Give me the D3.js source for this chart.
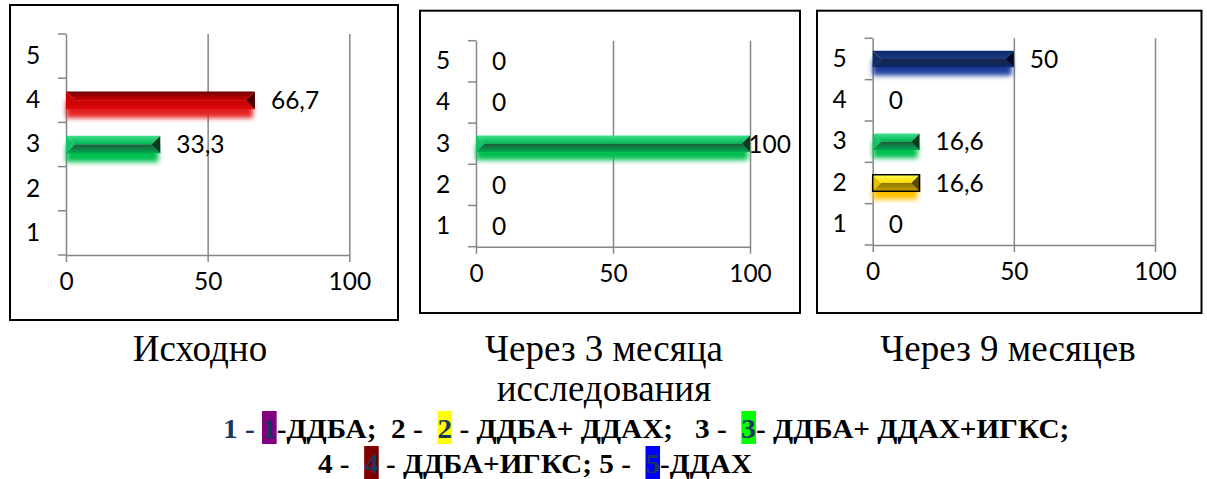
<!DOCTYPE html>
<html>
<head>
<meta charset="utf-8">
<script src="https://cdn.jsdelivr.net/npm/d3@7"></script>
<style>
  body { margin: 0; background: #fff; }
  svg { display: block; }
</style>
</head>
<body>
<svg id="chart" width="1207" height="479"></svg>
<script>
// ---- data ----
const categories = [1, 2, 3, 4, 5];
const xTickValues = [0, 50, 100];
const valuesInitial = [null, null, 33.3, 66.7, null];
const valuesMonth3 = [0, 0, 100, 0, 0];
const valuesMonth9 = [0, 16.6, 16.6, 0, 50];
const titleInitial = ["Исходно"];
const titleMonth3 = ["Через 3 месяца", "исследования"];
const titleMonth9 = ["Через 9 месяцев"];

// legend text runs: text, colour, optional highlight
const legendLine1 = [
  { t: "1 - ", c: "#17375e" },
  { t: "1", c: "#17375e", bg: "#800080" },
  { t: "-ДДБА;  2 -  ", c: "#000" },
  { t: "2", c: "#17375e", bg: "#ffff00" },
  { t: " - ДДБА+ ДДАХ;   3 -  ", c: "#000" },
  { t: "3", c: "#17375e", bg: "#00ff00" },
  { t: "- ДДБА+ ДДАХ+ИГКС;", c: "#000" }
];
const legendLine2 = [
  { t: "4 -  ", c: "#000" },
  { t: "4", c: "#17375e", bg: "#800000" },
  { t: " - ДДБА+ИГКС; 5 -  ", c: "#000" },
  { t: "5", c: "#17375e", bg: "#0000ff" },
  { t: "-ДДАХ", c: "#000" }
];

// ---- bar looks per category (bevelled bars with a soft glow below) ----
const barStyle = {
  1: { top: ["#b040b0", "#800080"], bottom: ["#500050", "#800080"], left: "#900090", right: "#300030", glow: "#9030a0" },
  2: { top: ["#ffff50", "#ffd800"], bottom: ["#8a7400", "#c8a000"], left: "#e6c000", right: "#5a4800", glow: "#ffc000", stroke: "#000" },
  3: { top: ["#40e08c", "#00b454"], bottom: ["#1c5c3a", "#00a850"], left: "#14c464", right: "#0a3c22", glow: "#00c050" },
  4: { top: ["#6a0000", "#d00000"], bottom: ["#c40000", "#dc0a0a"], left: "#d00000", right: "#480000", glow: "#e42424" },
  5: { top: ["#0a286c", "#1e3c80"], bottom: ["#1a2648", "#0a2868"], left: "#0e2c6c", right: "#000a20", glow: "#1c3c9c" }
};

const svg = d3.select("#chart");
const defs = svg.append("defs");

defs.append("filter").attr("id", "glow")
  .attr("x", "-10%").attr("y", "-60%").attr("width", "120%").attr("height", "220%")
  .append("feGaussianBlur").attr("stdDeviation", 2.6);

Object.entries(barStyle).forEach(([k, s]) => {
  ["top", "bottom"].forEach(part => {
    const lg = defs.append("linearGradient").attr("id", `g${k}${part}`)
      .attr("x1", 0).attr("y1", 0).attr("x2", 0).attr("y2", 1);
    lg.append("stop").attr("offset", "0%").attr("stop-color", s[part][0]);
    lg.append("stop").attr("offset", "100%").attr("stop-color", s[part][1]);
  });
});

const axisColor = "#868686";
const labelFont = "Lato, 'Open Sans', sans-serif";
const labelSize = "24.5px";

const panels = [
  { values: valuesInitial, title: titleInitial, frame: [10, 5, 398, 320], x0: 66, x1: 349.3, yTop: 34, yBot: 255, titleX: 200 },
  { values: valuesMonth3, title: titleMonth3, frame: [420, 10.7, 800, 313], x0: 476, x1: 750, yTop: 40.7, yBot: 246.7, titleX: 604 },
  { values: valuesMonth9, title: titleMonth9, frame: [817, 10.7, 1201.5, 313], x0: 872.7, x1: 1155, yTop: 38.3, yBot: 245, titleX: 1008 }
];

panels.forEach(p => {
  const g = svg.append("g");
  const [fx1, fy1, fx2, fy2] = p.frame;

  g.append("rect")
    .attr("x", fx1).attr("y", fy1)
    .attr("width", fx2 - fx1).attr("height", fy2 - fy1)
    .attr("fill", "#fff").attr("stroke", "#000").attr("stroke-width", 2);

  const x = d3.scaleLinear().domain([0, 100]).range([p.x0, p.x1]);
  const y = d3.scaleBand().domain(categories.slice().reverse()).range([p.yTop, p.yBot]);
  const plotH = p.yBot - p.yTop;

  // x axis with vertical gridlines
  const xAxis = g.append("g")
    .attr("transform", `translate(0,${p.yBot})`)
    .call(d3.axisBottom(x).tickValues(xTickValues).tickSize(7).tickSizeOuter(0).tickPadding(11));
  xAxis.select(".domain").attr("stroke", axisColor).attr("stroke-width", 1.5);
  xAxis.selectAll(".tick line").attr("y1", -plotH).attr("stroke", axisColor).attr("stroke-width", 1.5);
  xAxis.selectAll(".tick text")
    .attr("fill", "#000").style("font-family", labelFont).style("font-size", labelSize);

  // y axis: category labels centred in bands, tick marks on band edges
  const yAxis = g.append("g")
    .attr("transform", `translate(${p.x0},0)`)
    .call(d3.axisLeft(y).tickSize(0).tickPadding(27));
  yAxis.select(".domain").remove();
  yAxis.selectAll(".tick text")
    .attr("text-anchor", "middle").attr("x", -33)
    .attr("fill", "#000").style("font-family", labelFont).style("font-size", labelSize);

  const edges = categories.map(c => y(c)).concat([p.yBot]);
  g.append("g").selectAll("line").data(edges).join("line")
    .attr("x1", p.x0 - 8).attr("x2", p.x0)
    .attr("y1", d => d).attr("y2", d => d)
    .attr("stroke", axisColor).attr("stroke-width", 1.5);

  // bars
  const bw = y.bandwidth();
  const th = bw * 0.4;
  const bars = categories.map((c, i) => ({ c, v: p.values[i] }));

  bars.filter(d => d.v !== null && d.v > 0).forEach(d => {
    const s = barStyle[d.c];
    const xa = x(0), xb = x(d.v);
    const ya = y(d.c) + (bw - th) / 2, yb = ya + th;
    const mid = (ya + yb) / 2;
    const bev = Math.min(th / 2, (xb - xa) / 2);
    const bg = g.append("g");

    bg.append("rect")
      .attr("x", xa).attr("y", ya + th * 0.5)
      .attr("width", Math.max(0, xb - xa - 2)).attr("height", th)
      .attr("fill", s.glow).attr("filter", "url(#glow)");

    const poly = pts => pts.map(q => q.join(",")).join(" ");
    bg.append("polygon").attr("points", poly([[xa, ya], [xb, ya], [xb - bev, mid], [xa + bev, mid]]))
      .attr("fill", `url(#g${d.c}top)`);
    bg.append("polygon").attr("points", poly([[xa + bev, mid], [xb - bev, mid], [xb, yb], [xa, yb]]))
      .attr("fill", `url(#g${d.c}bottom)`);
    bg.append("polygon").attr("points", poly([[xa, ya], [xa + bev, mid], [xa, yb]]))
      .attr("fill", s.left);
    bg.append("polygon").attr("points", poly([[xb, ya], [xb - bev, mid], [xb, yb]]))
      .attr("fill", s.right);
    if (s.stroke) {
      bg.append("rect").attr("x", xa).attr("y", ya)
        .attr("width", xb - xa).attr("height", th)
        .attr("fill", "none").attr("stroke", s.stroke).attr("stroke-width", 1.5);
    }
  });

  // value labels
  g.append("g").selectAll("text")
    .data(bars.filter(d => d.v !== null))
    .join("text")
    .attr("x", d => x(d.v) + 16)
    .attr("y", d => y(d.c) + bw / 2)
    .attr("dy", "0.36em")
    .style("font-family", labelFont).style("font-size", labelSize)
    .attr("fill", "#000")
    .text(d => String(d.v).replace(".", ","))
    .each(function () {
      const w = this.getComputedTextLength();
      const cur = +this.getAttribute("x");
      if (cur + w > fx2 - 9) this.setAttribute("x", fx2 - 9 - w);
    });

  // panel caption
  const t = svg.append("text")
    .attr("text-anchor", "middle")
    .style("font-family", "'Liberation Serif', 'Times New Roman', serif")
    .style("font-size", "37px").attr("fill", "#000");
  p.title.forEach((line, i) => {
    t.append("tspan").attr("x", p.titleX).attr("y", 361 + i * 40).text(line);
  });
});

// legend lines with highlighted numbers
function legendLine(segs, startX, baseline, targetWidth) {
  const g = svg.append("g");
  const text = g.append("text")
    .attr("x", startX).attr("y", baseline)
    .style("white-space", "pre")
    .style("font-family", "'Liberation Serif', 'Times New Roman', serif")
    .style("font-weight", "bold").style("font-size", "28px");
  segs.forEach(s => text.append("tspan").attr("fill", s.c).text(s.t));
  const w = text.node().getComputedTextLength();
  const k = targetWidth / w;
  g.attr("transform", `translate(${startX},0) scale(${k},1) translate(${-startX},0)`);
  text.selectAll("tspan").each(function (d, i) {
    const s = segs[i];
    if (!s.bg) return;
    const bb = this.getBBox();
    g.insert("rect", "text")
      .attr("x", bb.x).attr("y", baseline - 27)
      .attr("width", bb.width).attr("height", 33)
      .attr("fill", s.bg);
  });
}
legendLine(legendLine1, 223, 438, 847);
legendLine(legendLine2, 318, 473, 434);
</script>
</body>
</html>
